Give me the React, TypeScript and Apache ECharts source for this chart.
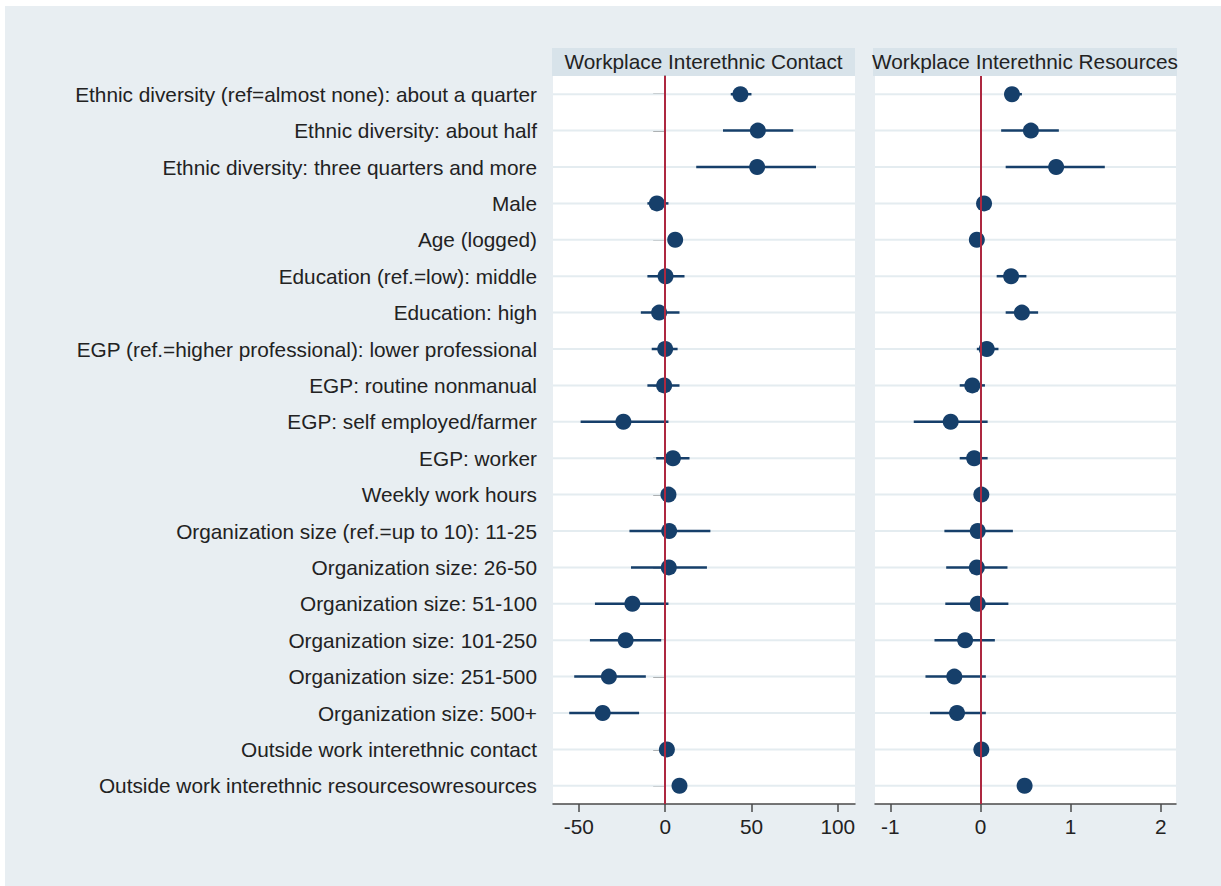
import React, { useEffect, useRef } from "react";
import * as echarts from "echarts";

const categories = [
  "Ethnic diversity (ref=almost none): about a quarter",
  "Ethnic diversity: about half",
  "Ethnic diversity: three quarters and more",
  "Male",
  "Age (logged)",
  "Education (ref.=low): middle",
  "Education: high",
  "EGP (ref.=higher professional): lower professional",
  "EGP: routine nonmanual",
  "EGP: self employed/farmer",
  "EGP: worker",
  "Weekly work hours",
  "Organization size (ref.=up to 10): 11-25",
  "Organization size: 26-50",
  "Organization size: 51-100",
  "Organization size: 101-250",
  "Organization size: 251-500",
  "Organization size: 500+",
  "Outside work interethnic contact",
  "Outside work interethnic resourcesowresources",
];

const panelTitles = ["Workplace Interethnic Contact", "Workplace Interethnic Resources"];

const contactEst = [43.6, 53.7, 53.3, -4.8, 5.8, 0.2, -3.5, 0, -0.6, -24.2, 4.5, 1.9, 2.3, 2.1, -19, -22.9, -32.6, -36.2, 1.0, 8.3];
const contactLo = [38, 33.5, 18, -10.3, 2.5, -10.3, -14.1, -7.8, -10.3, -49, -5.2, 1.0, -20.7, -19.8, -40.7, -43.6, -52.7, -55.6, 0.5, 7.5];
const contactHi = [50, 74.2, 87.4, 1.9, 9.5, 11.2, 8.3, 7.2, 8.3, 1.9, 14.1, 2.8, 26.2, 24.2, 1.9, -2.3, -11.2, -15.1, 1.5, 9.1];

const resEst = [0.35, 0.56, 0.84, 0.04, -0.04, 0.34, 0.46, 0.07, -0.09, -0.33, -0.07, 0.01, -0.03, -0.04, -0.03, -0.17, -0.29, -0.26, 0.01, 0.49];
const resLo = [0.29, 0.23, 0.28, 0.01, -0.06, 0.18, 0.28, -0.04, -0.23, -0.74, -0.23, 0.0, -0.4, -0.38, -0.39, -0.51, -0.61, -0.56, 0.0, 0.48];
const resHi = [0.46, 0.87, 1.38, 0.07, -0.02, 0.51, 0.64, 0.2, 0.05, 0.08, 0.08, 0.02, 0.36, 0.3, 0.31, 0.16, 0.06, 0.06, 0.02, 0.5];

const contactTicks = [-50, 0, 50, 100];
const resTicks = [-1, 0, 1, 2];

const NAVY = "#163f6a";
const ZERO = "#ad2840";
const AXIS = "#4a4a4a";
const GRIDLINE = "#e4ecf0";
const BG = "#e8eef2";
const HEADER = "#d8e3ea";
const FONT = "'Liberation Sans', Arial, Helvetica, sans-serif";
const FS = 20.8;

export default function App() {
  const ref = useRef<HTMLDivElement>(null);
  useEffect(() => {
    if (!ref.current) return;
    const chart = echarts.init(ref.current, undefined, { renderer: "svg" });

    const gridLeft = [553, 875];
    const gridWidth = [302, 301];
    const top = 76;
    const height = 728;

    const gridlineSeries = (gi: number) => ({
      type: "custom",
      xAxisIndex: gi,
      yAxisIndex: gi,
      z: 1,
      silent: true,
      data: categories.map((_, i) => [0, i]),
      encode: { x: 0, y: 1 },
      renderItem: (params: any, api: any) => {
        const cs = params.coordSys;
        const y = api.coord([0, api.value(1)])[1];
        return {
          type: "line",
          shape: { x1: cs.x, y1: y, x2: cs.x + cs.width, y2: y },
          style: { stroke: GRIDLINE, lineWidth: 2 },
        };
      },
      markLine: {
        silent: true,
        symbol: "none",
        label: { show: false },
        lineStyle: { color: ZERO, width: 2, type: "solid" },
        data: [{ xAxis: 0 }],
      },
    });

    const ciSeries = (gi: number, lo: number[], hi: number[]) => ({
      type: "custom",
      xAxisIndex: gi,
      yAxisIndex: gi,
      z: 2,
      silent: true,
      data: lo.map((l, i) => [l, hi[i], i]),
      encode: { x: [0, 1], y: 2 },
      renderItem: (_params: any, api: any) => {
        const p1 = api.coord([api.value(0), api.value(2)]);
        const p2 = api.coord([api.value(1), api.value(2)]);
        return {
          type: "line",
          shape: { x1: p1[0], y1: p1[1], x2: p2[0], y2: p2[1] },
          style: { stroke: NAVY, lineWidth: 2.5 },
        };
      },
    });

    const pointSeries = (gi: number, est: number[]) => ({
      type: "scatter",
      xAxisIndex: gi,
      yAxisIndex: gi,
      z: 3,
      symbol: "circle",
      symbolSize: 16,
      itemStyle: { color: NAVY, opacity: 1 },
      data: est.map((v, i) => [v, i]),
    });

    const xAxis = (gi: number, min: number, max: number, ticks: number[]) => ({
      type: "value",
      gridIndex: gi,
      min,
      max,
      axisLine: { show: true, onZero: false, lineStyle: { color: AXIS, width: 1.5 } },
      axisTick: { show: true, inside: false, length: 8, customValues: ticks, lineStyle: { color: AXIS, width: 1.5 } },
      axisLabel: { show: true, customValues: ticks, fontSize: FS, color: "#222", fontFamily: FONT, margin: 12 },
      splitLine: { show: false },
    });

    const option: any = {
      animation: false,
      backgroundColor: BG,
      textStyle: { fontFamily: FONT },
      graphic: [
        { type: "rect", shape: { x: 0, y: 0, width: 1221, height: 6 }, style: { fill: "#ffffff" }, silent: true },
        { type: "rect", shape: { x: 0, y: 0, width: 5, height: 886 }, style: { fill: "#ffffff" }, silent: true },
        { type: "rect", shape: { x: 552, y: 48, width: 303, height: 28 }, style: { fill: HEADER }, silent: true },
        { type: "rect", shape: { x: 873, y: 48, width: 304, height: 28 }, style: { fill: HEADER }, silent: true },
        {
          type: "text",
          x: 703.5,
          y: 61,
          style: { text: panelTitles[0], fontSize: FS, fontFamily: FONT, fill: "#222", align: "center", verticalAlign: "middle" },
        },
        {
          type: "text",
          x: 1025,
          y: 61,
          style: { text: panelTitles[1], fontSize: FS, fontFamily: FONT, fill: "#222", align: "center", verticalAlign: "middle" },
        },
      ],
      grid: [0, 1].map((gi) => ({
        left: gridLeft[gi],
        top,
        width: gridWidth[gi],
        height,
        show: true,
        backgroundColor: "#ffffff",
        borderWidth: 0,
        containLabel: false,
      })),
      xAxis: [xAxis(0, -65, 110, contactTicks), xAxis(1, -1.17, 2.17, resTicks)],
      yAxis: [
        {
          type: "category",
          gridIndex: 0,
          data: categories,
          inverse: true,
          axisLine: { show: true, lineStyle: { color: AXIS, width: 1.5 } },
          axisTick: { show: true, alignWithLabel: true, length: 12, lineStyle: { color: AXIS, width: 1.5 } },
          axisLabel: { show: true, fontSize: FS, color: "#222", fontFamily: FONT, margin: 16, interval: 0 },
          splitLine: { show: false },
        },
        {
          type: "category",
          gridIndex: 1,
          data: categories,
          inverse: true,
          axisLine: { show: false },
          axisTick: { show: false },
          axisLabel: { show: false },
          splitLine: { show: false },
        },
      ],
      series: [
        gridlineSeries(0),
        gridlineSeries(1),
        ciSeries(0, contactLo, contactHi),
        ciSeries(1, resLo, resHi),
        pointSeries(0, contactEst),
        pointSeries(1, resEst),
      ],
    };
    chart.setOption(option);
    return () => chart.dispose();
  }, []);

  return (
    <div
      ref={ref}
      style={{ position: "absolute", left: 0, top: 0, width: 1221, height: 886 }}
    />
  );
}
